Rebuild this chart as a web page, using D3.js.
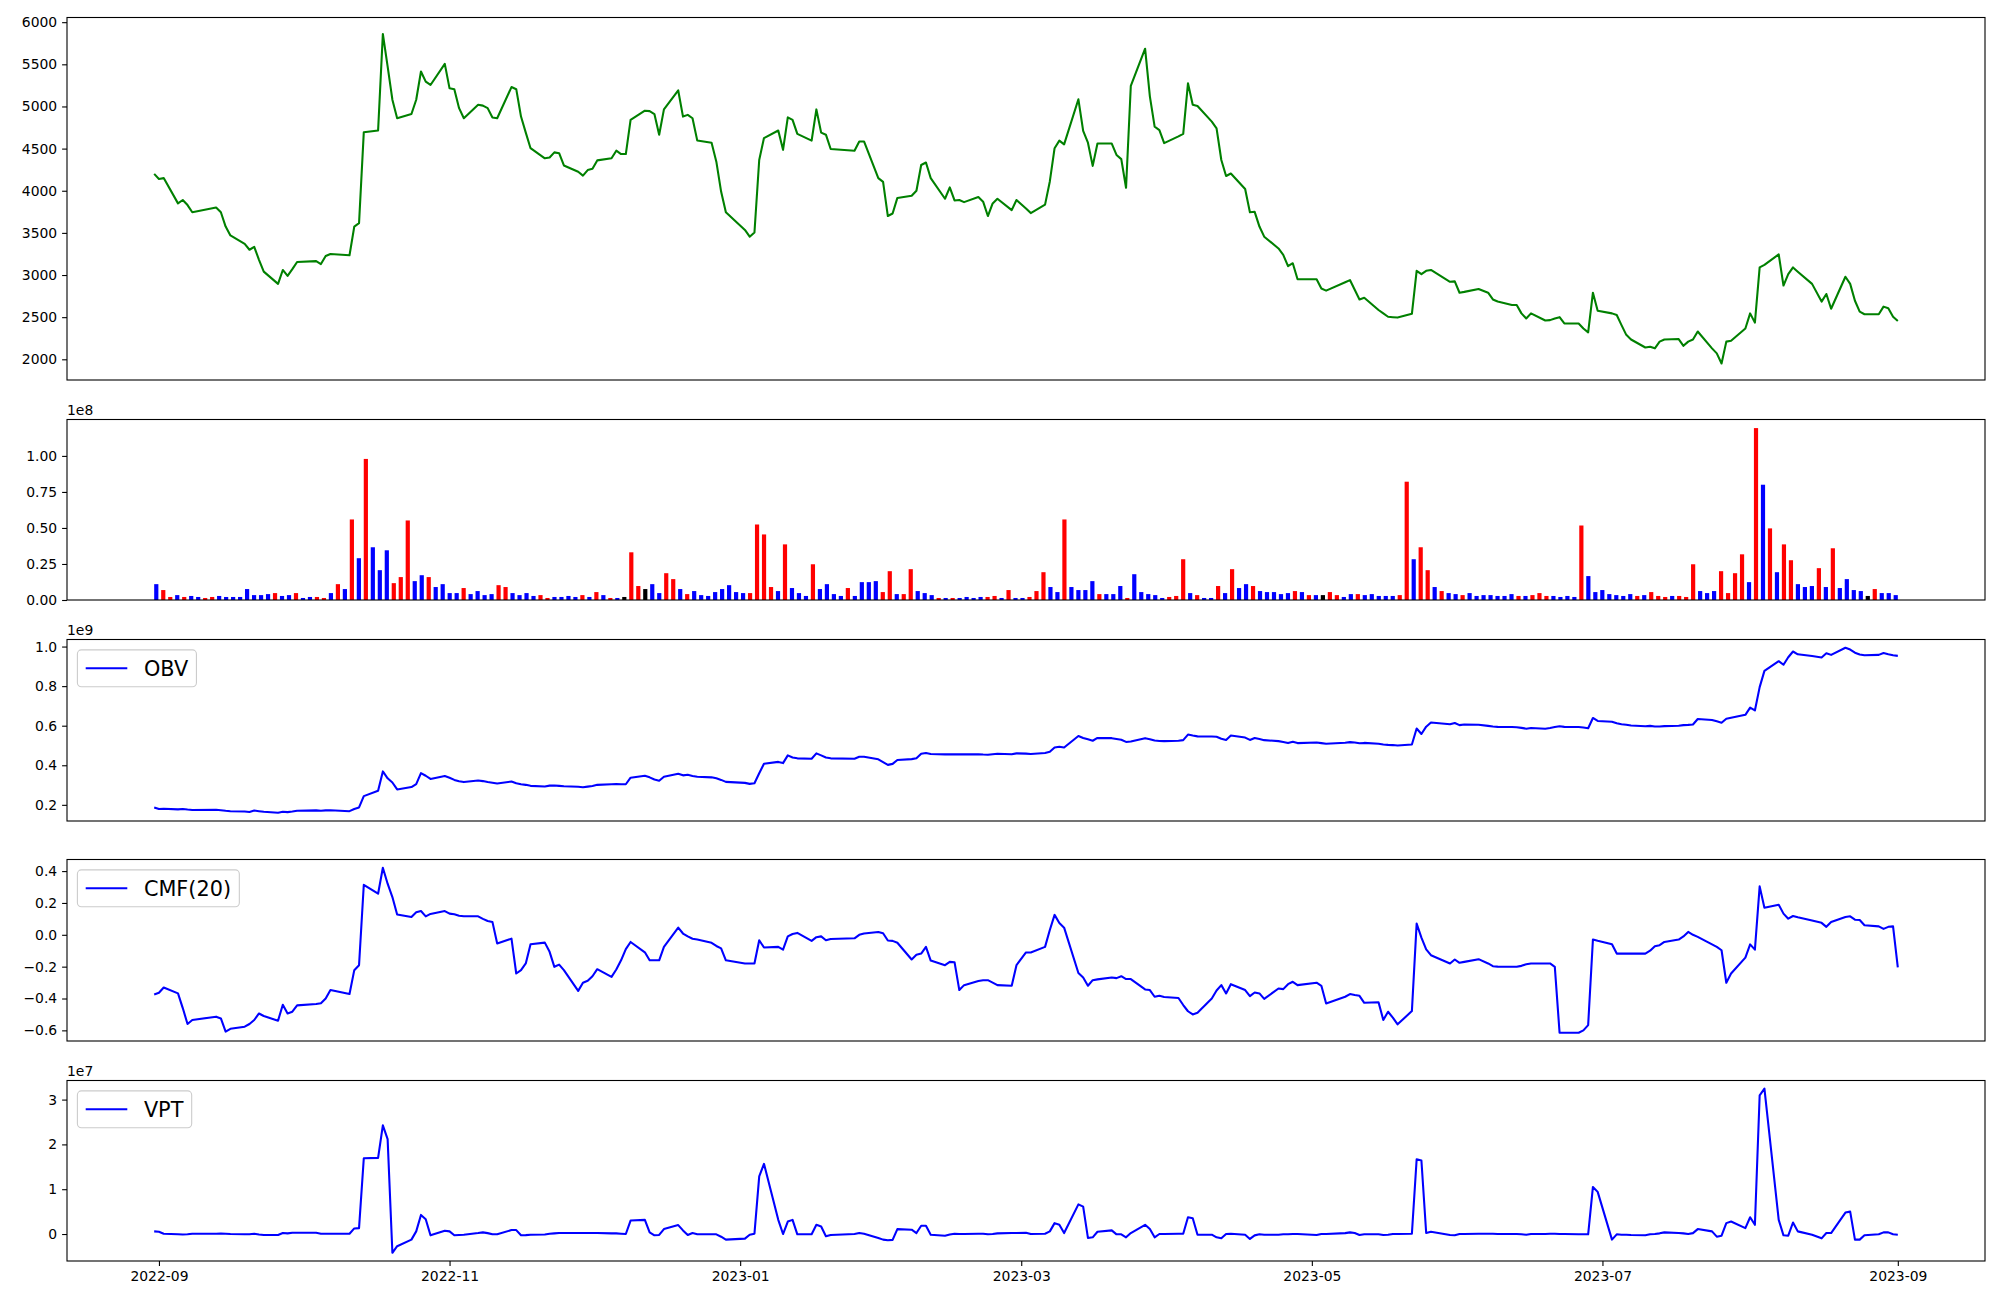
<!DOCTYPE html>
<html>
<head>
<meta charset="utf-8">
<script src="https://cdn.jsdelivr.net/npm/d3@7"></script>
<style>
body { margin: 0; background: #fff; }
</style>
</head>
<body>
<script>
// trading days (KRX calendar) shown on the chart
const tradingDays = [
  ["2022-08", [31]],
  ["2022-09", [1,2,5,6,7,8,13,14,15,16,19,20,21,22,23,26,27,28,29,30]],
  ["2022-10", [4,5,6,7,11,12,13,14,17,18,19,20,21,24,25,26,27,28,31]],
  ["2022-11", [1,2,3,4,7,8,9,10,11,14,15,16,17,18,21,22,23,24,25,28,29,30]],
  ["2022-12", [1,2,5,6,7,8,9,12,13,14,15,16,19,20,21,22,23,26,27,28,29]],
  ["2023-01", [2,3,4,5,6,9,10,11,12,13,16,17,18,19,20,25,26,27,30,31]],
  ["2023-02", [1,2,3,6,7,8,9,10,13,14,15,16,17,20,21,22,23,24,27,28]],
  ["2023-03", [2,3,6,7,8,9,10,13,14,15,16,17,20,21,22,23,24,27,28,29,30,31]],
  ["2023-04", [3,4,5,6,7,10,11,12,13,14,17,18,19,20,21,24,25,26,27,28]],
  ["2023-05", [2,3,4,8,9,10,11,12,15,16,17,18,19,22,23,24,25,26,30,31]],
  ["2023-06", [1,2,5,7,8,9,12,13,14,15,16,19,20,21,22,23,26,27,28,29,30]],
  ["2023-07", [3,4,5,6,7,10,11,12,13,14,17,18,19,20,21,24,25,26,27,28,31]],
  ["2023-08", [1,2,3,4,7,8,9,10,11,14,16,17,18,21,22,23,24,25,28,29,30,31]],
  ["2023-09", [1]]
];

// closing price
const close = [4200,
  4140,4150,3850,3890,3830,3745,3800,3745,3575,3470,3370,3300,3335,3180,3040,2895,3060,2990,3070,3155,
  3165,3130,3225,3250,3235,3575,3615,4695,4715,5860,5475,5080,4860,4910,5080,5415,5295,5255,5505,
  5215,5205,4980,4860,5020,5010,4980,4870,4860,5230,5205,4880,4690,4505,4385,4395,4455,4445,4300,4225,4180,4245,
  4260,4360,4385,4475,4435,4435,4840,4950,4945,4910,4665,4965,5190,4880,4900,4860,4595,4570,4345,3990,3745,
  3535,3455,3505,4365,4625,4715,4485,4870,4840,4675,4595,4965,4690,4665,4495,4475,4585,4585,4150,4105,
  3700,3730,3915,3940,4000,4305,4335,4150,3905,4040,3885,3890,3865,3925,3870,3700,3850,3905,3770,3890,
  3790,3735,3835,4110,4505,4595,4550,5085,4710,4570,4295,4560,4560,4425,4375,4035,5245,5685,5120,4760,4720,4565,
  4645,4675,5275,5020,5005,4820,4740,4365,4175,4205,4020,3745,3750,3575,3455,3315,3240,3105,3140,2950,
  2950,2840,2815,2915,2940,2825,2710,2730,2585,2545,2505,2500,2495,2540,3050,3010,3050,3060,2920,2925,
  2790,2800,2835,2790,2710,2685,2645,2645,2545,2485,2545,2460,2465,2485,2500,2425,2425,2365,2320,2790,2575,
  2545,2525,2405,2290,2235,2140,2150,2130,2210,2235,2240,2160,2210,2235,2330,2130,2070,1950,2210,2220,2365,
  2545,2435,3090,3120,3245,2875,3010,3090,3040,2895,2685,2775,2600,2980,2895,2695,2565,2535,2535,2625,2605,2505,
  2455];

// volume, millions of shares
const volumeM = [11.0,
  6.9,2.1,3.4,2.1,2.8,2.1,1.4,2.1,2.8,2.1,2.1,2.1,7.6,3.4,3.4,4.1,4.8,2.8,3.4,4.8,
  1.4,2.1,2.1,1.4,4.8,11.0,7.6,55.9,29.0,97.9,36.6,20.7,34.5,11.7,15.9,55.2,13.1,17.2,15.9,
  9.0,11.0,4.8,4.8,8.3,4.1,6.2,3.4,4.1,10.3,9.0,4.8,3.4,4.8,2.8,3.4,1.4,2.1,2.1,2.8,2.1,3.4,
  2.1,5.5,3.4,1.4,1.4,2.1,33.1,9.7,7.6,11.0,4.8,18.6,14.5,7.6,4.1,6.2,3.4,2.8,5.5,7.6,10.3,
  5.5,4.8,4.8,52.4,45.5,9.0,6.2,38.6,8.3,4.8,2.8,24.8,7.6,11.0,4.1,2.8,8.3,2.8,12.4,12.4,
  13.1,5.5,20.0,4.1,4.1,21.4,6.2,4.8,3.4,1.4,1.4,1.4,1.4,2.1,1.4,2.1,2.1,2.8,1.4,6.9,
  1.4,1.4,2.1,6.2,19.3,9.0,5.5,55.9,9.0,6.9,6.9,13.1,4.1,4.1,4.1,9.7,1.4,17.9,5.5,4.1,3.4,1.4,
  2.1,2.8,28.3,4.8,3.4,1.4,1.4,9.7,4.8,21.4,8.3,11.0,9.7,6.2,5.5,5.5,4.1,4.8,6.2,5.5,
  3.4,3.4,3.4,5.5,3.4,2.1,4.1,4.1,3.4,4.1,2.8,2.8,2.8,3.4,82.1,28.3,36.6,20.7,9.0,6.2,
  4.8,4.1,3.4,4.8,2.8,3.4,3.4,2.8,2.8,4.1,2.8,2.8,3.4,4.8,2.8,2.8,2.1,2.8,2.1,51.7,16.6,
  5.5,6.9,4.1,3.4,2.8,4.1,2.8,3.4,5.5,2.8,2.1,2.8,2.8,2.1,24.8,6.2,4.8,6.2,20.0,4.8,18.6,
  31.7,12.4,119.3,80.0,49.7,19.3,38.6,27.6,11.0,9.0,9.7,22.1,9.0,35.9,8.3,14.5,6.9,6.2,2.8,7.6,4.8,4.8,
  3.4];

// bar colour per day: R = red, B = blue, K = black
const barColor = (
  "BRRBRBBRRB" + "BBBBBBBRBB" + "RBBRRBRBRB" + "RBBBRRRBBR" + "BBBBRBBBBR" +
  "RBBBBRRBBB" + "BRBRBRBKRR" + "KBBRRBRBBB" + "BBBBBRRRRB" + "RBBBRBBBBR" +
  "BBBBRRBRRB" + "BBRBRBBBBR" + "RBRBBRRRBB" + "RBBBBRBBBR" + "BBBBBRRRBR" +
  "BBRBRBBRBB" + "BBBRBRBKRR" + "BBRBBBBBRR" + "BRRBRBBRBB" + "BBBBBRBRRR" +
  "BBBBRBBBBB" + "BBRBRRRBRR" + "RBBBRRRRBR" + "BRBRRBBBRB" + "RBBBBKRBBB").split("");

// OBV, units of 1e9
const obvE9 = [0.187,
  0.179,0.180,0.177,0.179,0.176,0.174,0.175,0.173,0.170,0.168,0.166,0.164,0.171,0.168,0.165,0.160,0.165,0.163,0.166,0.170,
  0.172,0.170,0.172,0.173,0.168,0.179,0.187,0.244,0.271,0.369,0.334,0.313,0.278,0.290,0.305,0.360,0.347,0.331,0.346,
  0.337,0.326,0.319,0.315,0.323,0.320,0.315,0.312,0.308,0.318,0.309,0.304,0.301,0.296,0.293,0.297,0.298,0.296,0.294,0.291,0.289,0.292,
  0.295,0.301,0.304,0.305,0.304,0.304,0.337,0.347,0.339,0.328,0.322,0.342,0.357,0.349,0.352,0.346,0.342,0.339,0.334,0.326,0.316,
  0.311,0.306,0.309,0.360,0.408,0.417,0.411,0.450,0.439,0.435,0.433,0.460,0.450,0.439,0.435,0.433,0.443,0.443,0.430,0.416,
  0.402,0.407,0.427,0.431,0.435,0.458,0.462,0.457,0.455,0.456,0.455,0.456,0.455,0.456,0.454,0.453,0.456,0.458,0.456,0.460,
  0.459,0.457,0.462,0.468,0.490,0.494,0.490,0.548,0.538,0.531,0.524,0.538,0.537,0.533,0.529,0.518,0.520,0.537,0.532,0.525,0.523,0.522,
  0.524,0.527,0.555,0.550,0.546,0.545,0.544,0.534,0.528,0.550,0.540,0.528,0.538,0.533,0.527,0.522,0.518,0.512,0.519,0.512,
  0.515,0.512,0.509,0.514,0.517,0.515,0.511,0.513,0.509,0.505,0.503,0.502,0.500,0.505,0.586,0.558,0.595,0.616,0.607,0.614,
  0.603,0.606,0.605,0.599,0.596,0.594,0.593,0.592,0.589,0.585,0.588,0.585,0.588,0.593,0.597,0.594,0.593,0.591,0.587,0.639,0.624,
  0.620,0.612,0.607,0.605,0.601,0.597,0.599,0.596,0.596,0.598,0.600,0.603,0.604,0.606,0.634,0.629,0.622,0.615,0.635,0.640,0.655,
  0.691,0.677,0.795,0.877,0.926,0.908,0.946,0.975,0.961,0.952,0.945,0.966,0.958,0.994,0.985,0.969,0.960,0.956,0.958,0.967,0.961,0.956,
  0.953];

// Chaikin money flow, 20 days
const cmf20 = [-0.375,
  -0.364,-0.331,-0.368,-0.46,-0.56,-0.535,-0.514,-0.525,-0.608,-0.59,-0.577,-0.56,-0.535,-0.494,-0.51,-0.539,-0.439,-0.494,-0.483,-0.443,
  -0.435,-0.43,-0.40,-0.347,-0.372,-0.222,-0.191,0.314,0.258,0.421,0.321,0.237,0.127,0.112,0.141,0.149,0.116,0.131,0.149,
  0.133,0.129,0.120,0.116,0.116,0.100,0.087,0.081,-0.055,-0.024,-0.243,-0.222,-0.180,-0.059,-0.049,-0.107,-0.201,-0.187,-0.222,-0.352,-0.301,-0.289,
  -0.26,-0.216,-0.264,-0.218,-0.16,-0.09,-0.045,-0.11,-0.160,-0.160,-0.160,-0.076,0.045,0.008,-0.01,-0.025,-0.030,-0.050,-0.070,-0.085,-0.160,
  -0.180,-0.180,-0.180,-0.034,-0.080,-0.076,-0.093,-0.01,0.005,0.012,-0.038,-0.015,-0.01,-0.034,-0.026,-0.022,0.0,0.008,0.018,0.01,
  -0.036,-0.038,-0.050,-0.155,-0.126,-0.118,-0.076,-0.162,-0.191,-0.170,-0.172,-0.347,-0.316,-0.29,-0.285,-0.285,-0.30,-0.316,-0.320,-0.191,
  -0.111,-0.111,-0.076,0.03,0.125,0.074,0.045,-0.24,-0.268,-0.320,-0.285,-0.28,-0.268,-0.272,-0.260,-0.278,-0.278,-0.343,-0.347,-0.389,-0.383,-0.39,
  -0.397,-0.441,-0.48,-0.50,-0.49,-0.40,-0.35,-0.316,-0.368,-0.310,-0.347,-0.385,-0.362,-0.368,-0.402,-0.337,-0.341,-0.31,-0.295,-0.316,
  -0.301,-0.320,-0.431,-0.389,-0.372,-0.378,-0.383,-0.427,-0.423,-0.535,-0.483,-0.52,-0.562,-0.479,0.070,-0.018,-0.091,-0.128,-0.180,-0.155,
  -0.176,-0.17,-0.153,-0.180,-0.197,-0.20,-0.201,-0.201,-0.195,-0.185,-0.180,-0.180,-0.18,-0.201,-0.615,-0.615,-0.615,-0.60,-0.567,-0.030,-0.038,
  -0.059,-0.118,-0.118,-0.118,-0.118,-0.118,-0.10,-0.072,-0.065,-0.045,-0.03,-0.01,0.018,0.0,-0.013,-0.06,-0.076,-0.097,-0.301,-0.243,-0.143,
  -0.06,-0.093,0.304,0.170,0.189,0.133,0.101,0.118,0.11,0.09,0.075,0.05,0.08,0.112,0.116,0.095,0.093,0.060,0.053,0.037,0.05,0.053,
  -0.205];

// volume price trend, units of 1e7
const vptE7 = [0.059,
  0.051,0.007,-0.007,-0.01,-0.007,0.007,0.007,0.01,0.007,0.0,-0.007,-0.005,0.007,-0.01,-0.022,-0.022,0.022,0.015,0.029,0.029,
  0.029,0.007,0.007,0.007,0.007,0.125,0.132,1.691,1.699,2.426,2.118,-0.419,-0.272,-0.125,0.059,0.426,0.331,-0.029,0.074,
  0.059,-0.029,-0.02,-0.015,0.022,0.037,0.02,-0.007,-0.007,0.088,0.088,-0.029,-0.025,-0.015,-0.01,0.007,0.015,0.022,0.022,0.022,0.022,0.022,
  0.022,0.022,0.015,0.015,0.007,0.0,0.301,0.316,0.037,-0.029,-0.02,0.110,0.199,0.081,-0.022,0.022,-0.007,-0.007,-0.007,-0.06,-0.125,
  -0.103,-0.015,0.007,1.287,1.566,0.316,0.0,0.279,0.316,-0.007,-0.007,0.206,0.169,-0.051,-0.02,0.0,0.022,0.007,-0.088,-0.125,
  -0.140,-0.13,0.110,0.096,0.022,0.184,0.184,-0.015,-0.037,-0.01,0.007,0.0,0.0,0.007,0.007,-0.007,0.0,0.015,0.022,0.022,
  0.029,0.0,0.007,0.059,0.243,0.206,0.022,0.662,0.610,-0.088,-0.074,0.051,0.081,-0.007,-0.007,-0.074,0.022,0.206,0.110,-0.074,0.0,0.0,
  0.007,0.007,0.375,0.353,-0.015,-0.015,-0.074,-0.096,0.0,0.007,-0.015,-0.110,-0.03,-0.007,-0.015,-0.015,-0.007,-0.007,0.0,0.0,
  -0.022,0.0,0.0,0.02,0.037,0.022,-0.022,-0.007,-0.007,-0.022,-0.015,0.0,0.0,0.007,1.669,1.640,0.022,0.051,-0.022,-0.029,
  0.0,0.0,0.007,0.007,0.007,0.0,0.0,0.0,-0.007,-0.015,0.0,0.0,0.007,0.007,0.0,0.0,-0.007,-0.007,-0.007,1.051,0.941,
  -0.125,-0.007,-0.015,-0.015,-0.022,-0.029,-0.007,0.0,0.015,0.037,0.022,0.015,0.0,0.02,0.110,0.059,-0.059,-0.037,0.243,0.279,0.132,
  0.375,0.206,3.096,3.243,0.316,-0.029,-0.037,0.257,0.059,-0.015,-0.096,0.022,0.022,0.478,0.500,-0.125,-0.125,-0.029,-0.007,0.037,0.037,-0.007,
  -0.015];

const monthTicks = ["2022-09","2022-11","2023-01","2023-03","2023-05","2023-07","2023-09"];

// ---- layout
const W = 2000, H = 1300;
const left = 67, right = 1985;
const FONT = "DejaVu Sans, sans-serif";
const tickFs = 13.9, legendFs = 20.8, tick = 4.9;

const parseDate = d3.utcParse("%Y-%m-%d");
const dates = [];
tradingDays.forEach(function(m) {
  m[1].forEach(function(day) { dates.push(parseDate(m[0] + "-" + String(day).padStart(2, "0"))); });
});
const n = dates.length;

const svg = d3.select("body").append("svg")
    .attr("width", W).attr("height", H)
    .style("display", "block");
svg.append("rect").attr("width", W).attr("height", H).attr("fill", "#fff");

function padded(vals) {
  var e = d3.extent(vals), m = (e[1] - e[0]) * 0.05;
  return [e[0] - m, e[1] + m];
}

// date axis shared by the line panels
var t0 = +dates[0], t1 = +dates[n - 1], span = t1 - t0;
var x = d3.scaleUtc().domain([new Date(t0 - span * 0.05), new Date(t1 + span * 0.05)]).range([left, right]);
// volume panel is drawn against the row index
var bw = 0.6, ext = (n - 1) + bw;
var xi = d3.scaleLinear().domain([-bw / 2 - ext * 0.05, n - 1 + bw / 2 + ext * 0.05]).range([left, right]);

function yAxis(top, y, ticks, fmt) {
  var g = svg.append("g").attr("transform", "translate(" + left + ",0)")
      .call(d3.axisLeft(y).tickValues(ticks).tickFormat(fmt).tickSize(tick).tickPadding(tick));
  g.select(".domain").remove();
  g.attr("font-size", tickFs).attr("font-family", FONT);
  g.selectAll(".tick line").attr("stroke", "#000").attr("stroke-width", 1.1);
  g.selectAll(".tick text").attr("fill", "#000");
  return g;
}

function spine(top, bottom) {
  svg.append("rect")
      .attr("x", left).attr("y", top)
      .attr("width", right - left).attr("height", bottom - top)
      .attr("fill", "none").attr("stroke", "#000").attr("stroke-width", 1.1);
}

function offsetLabel(top, txt) {
  svg.append("text").attr("x", left).attr("y", top - 4.5)
      .attr("font-family", FONT).attr("font-size", tickFs).attr("fill", "#000")
      .text(txt);
}

function drawLine(vals, y, color) {
  var line = d3.line()
      .x(function(d, i) { return x(dates[i]); })
      .y(function(d) { return y(d); });
  svg.append("path").datum(vals)
      .attr("d", line)
      .attr("fill", "none").attr("stroke", color)
      .attr("stroke-width", 2.08).attr("stroke-linejoin", "round");
}

function legend(top, label) {
  var bx = left + 10.4, by = top + 10.4, pad = 8.3, hl = 41.6, gap = 16.6, h = 36.8;
  var g = svg.append("g");
  var box = g.append("rect").attr("x", bx).attr("y", by).attr("height", h)
      .attr("rx", 4).attr("fill", "#fff").attr("fill-opacity", 0.8)
      .attr("stroke", "#cccccc").attr("stroke-width", 1.1);
  g.append("line")
      .attr("x1", bx + pad).attr("x2", bx + pad + hl)
      .attr("y1", by + h / 2).attr("y2", by + h / 2)
      .attr("stroke", "blue").attr("stroke-width", 2.08);
  var t = g.append("text").attr("x", bx + pad + hl + gap).attr("y", by + h / 2)
      .attr("dy", "0.36em")
      .attr("font-family", FONT).attr("font-size", legendFs).attr("fill", "#000")
      .text(label);
  var tw = t.node().getComputedTextLength();
  box.attr("width", pad + hl + gap + tw + pad);
}

// ---- panel 1: price
var p1 = {top: 17.5, bottom: 380};
var yPrice = d3.scaleLinear().domain(padded(close)).range([p1.bottom, p1.top]);
drawLine(close, yPrice, "green");
yAxis(p1.top, yPrice, [2000, 2500, 3000, 3500, 4000, 4500, 5000, 5500, 6000], d3.format("d"));
spine(p1.top, p1.bottom);

// ---- panel 2: volume bars
var p2 = {top: 419.5, bottom: 600};
var yVol = d3.scaleLinear().domain([0, d3.max(volumeM) * 1.05]).range([p2.bottom, p2.top]);
var colorOf = {R: "red", B: "blue", K: "black"};
svg.append("g").selectAll("rect").data(volumeM).join("rect")
    .attr("x", function(d, i) { return xi(i - bw / 2); })
    .attr("width", function(d, i) { return xi(i + bw / 2) - xi(i - bw / 2); })
    .attr("y", function(d) { return yVol(d); })
    .attr("height", function(d) { return yVol(0) - yVol(d); })
    .attr("fill", function(d, i) { return colorOf[barColor[i]]; });
yAxis(p2.top, yVol, [0, 25, 50, 75, 100], function(v) { return (v / 100).toFixed(2); });
spine(p2.top, p2.bottom);
offsetLabel(p2.top, "1e8");

// ---- panel 3: OBV
var p3 = {top: 639.5, bottom: 821};
var yObv = d3.scaleLinear().domain(padded(obvE9)).range([p3.bottom, p3.top]);
drawLine(obvE9, yObv, "blue");
yAxis(p3.top, yObv, [0.2, 0.4, 0.6, 0.8, 1.0], d3.format(".1f"));
spine(p3.top, p3.bottom);
offsetLabel(p3.top, "1e9");
legend(p3.top, "OBV");

// ---- panel 4: CMF(20)
var p4 = {top: 859.5, bottom: 1041};
var yCmf = d3.scaleLinear().domain(padded(cmf20)).range([p4.bottom, p4.top]);
drawLine(cmf20, yCmf, "blue");
yAxis(p4.top, yCmf, [-0.6, -0.4, -0.2, 0, 0.2, 0.4], d3.format(".1f"));
spine(p4.top, p4.bottom);
legend(p4.top, "CMF(20)");

// ---- panel 5: VPT
var p5 = {top: 1080.5, bottom: 1261};
var yVpt = d3.scaleLinear().domain(padded(vptE7)).range([p5.bottom, p5.top]);
drawLine(vptE7, yVpt, "blue");
yAxis(p5.top, yVpt, [0, 1, 2, 3], d3.format("d"));
spine(p5.top, p5.bottom);
offsetLabel(p5.top, "1e7");
legend(p5.top, "VPT");

// date axis under the last panel
var parseMonth = d3.utcParse("%Y-%m");
var xg = svg.append("g").attr("transform", "translate(0," + p5.bottom + ")")
    .call(d3.axisBottom(x).tickValues(monthTicks.map(parseMonth))
      .tickFormat(d3.utcFormat("%Y-%m")).tickSize(tick).tickPadding(tick));
xg.select(".domain").remove();
xg.attr("font-size", tickFs).attr("font-family", FONT);
xg.selectAll(".tick line").attr("stroke", "#000").attr("stroke-width", 1.1);
xg.selectAll(".tick text").attr("fill", "#000");
</script>
</body>
</html>
